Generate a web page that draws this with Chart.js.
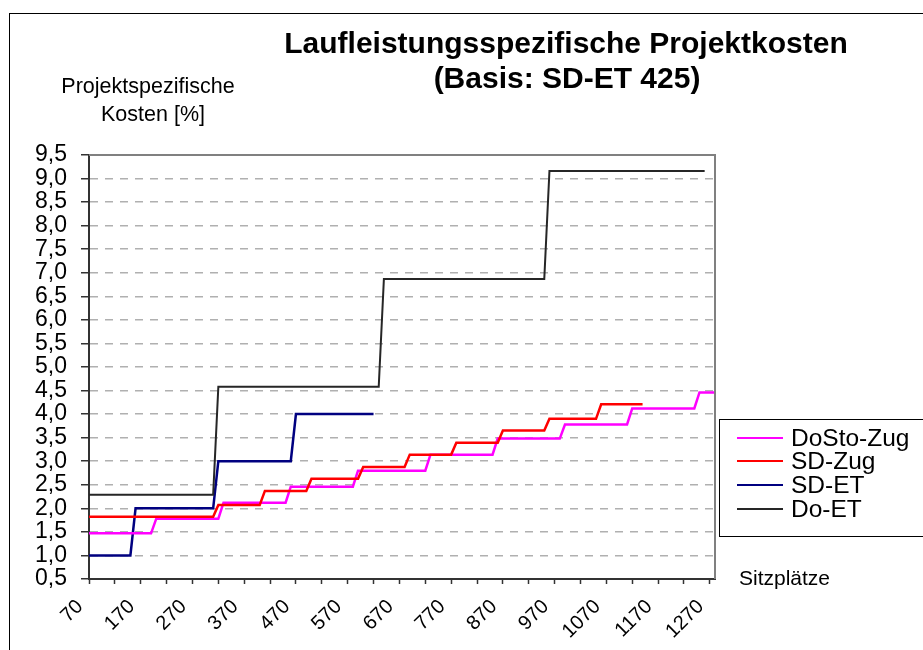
<!DOCTYPE html>
<html>
<head>
<meta charset="utf-8">
<script src="https://cdn.jsdelivr.net/npm/chart.js@4.4.0/dist/chart.umd.min.js"></script>
<style>
html,body{margin:0;padding:0;background:#fff;}
#wrap{position:relative;width:923px;height:650px;}
</style>
</head>
<body>
<div id="wrap"><canvas id="c" width="923" height="650"></canvas></div>
<script>
// ---------- texts ----------
const chartTitle = ['Laufleistungsspezifische Projektkosten', '(Basis: SD-ET 425)'];
const yAxisTitle = ['Projektspezifische', 'Kosten [%]'];
const xAxisTitle = 'Sitzplätze';
const seriesNames = ['DoSto-Zug', 'SD-Zug', 'SD-ET', 'Do-ET'];

// ---------- axis ticks ----------
const xTickValues = [70,120,170,220,270,320,370,420,470,520,570,620,670,720,770,820,870,920,970,1020,1070,1120,1170,1220,1270];
const xLabelValues = [70,170,270,370,470,570,670,770,870,970,1070,1170,1270];
const yTickValues = [0.5,1.0,1.5,2.0,2.5,3.0,3.5,4.0,4.5,5.0,5.5,6.0,6.5,7.0,7.5,8.0,8.5,9.0,9.5];
const yTickLabels = ['0,5','1,0','1,5','2,0','2,5','3,0','3,5','4,0','4,5','5,0','5,5','6,0','6,5','7,0','7,5','8,0','8,5','9,0','9,5'];

// ---------- series (step corners: seats / cost %) ----------
const doStoSeats = [70,190,200,320,330,450,460,580,590,720,730,850,860,980,990,1110,1120,1240,1250,1280];
const doStoCost  = [1.47,1.47,1.78,1.78,2.12,2.12,2.46,2.46,2.80,2.80,3.14,3.14,3.48,3.48,3.78,3.78,4.12,4.12,4.46,4.46];

const sdZugSeats = [70,310,320,400,410,490,500,590,600,680,690,770,780,860,870,950,960,1050,1060,1140];
const sdZugCost  = [1.82,1.82,2.07,2.07,2.37,2.37,2.63,2.63,2.88,2.88,3.14,3.14,3.39,3.39,3.65,3.65,3.90,3.90,4.21,4.21];

const sdEtSeats = [70,150,160,310,320,460,470,620];
const sdEtCost  = [1.0,1.0,2.0,2.0,3.0,3.0,4.0,4.0];

const doEtSeats = [70,310,320,630,640,950,960,1260];
const doEtCost  = [2.29,2.29,4.58,4.58,6.87,6.87,9.16,9.16];

const seriesColors = ['#ff00ff', '#ff0000', '#000080', '#262626'];

const FONT = '"Liberation Sans", Arial, Helvetica, sans-serif';
Chart.defaults.font.family = FONT;
Chart.defaults.color = '#000';

function pts(xs, ys) { return xs.map((x, i) => ({x: x, y: ys[i]})); }

const seriesData = [pts(doStoSeats, doStoCost), pts(sdZugSeats, sdZugCost), pts(sdEtSeats, sdEtCost), pts(doEtSeats, doEtCost)];
const seriesWidths = [2.5, 2.5, 2.5, 2];
const seriesOrder = [1, 0, 3, 2];

const deco = {
  id: 'deco',
  beforeDraw(chart) {
    const ctx = chart.ctx;
    ctx.save();
    ctx.fillStyle = '#fff';
    ctx.fillRect(0, 0, chart.width, chart.height);
    ctx.restore();
  },
  afterDraw(chart) {
    const ctx = chart.ctx, a = chart.chartArea;
    ctx.save();
    // outer chart frame (cropped at right/bottom)
    ctx.strokeStyle = '#000';
    ctx.lineWidth = 1;
    ctx.strokeRect(9.5, 13.5, 1000, 1000);
    // plot area top/right border
    ctx.strokeStyle = '#808080';
    ctx.lineWidth = 2;
    ctx.beginPath();
    ctx.moveTo(a.left, a.top);
    ctx.lineTo(a.right, a.top);
    ctx.lineTo(a.right, a.bottom);
    ctx.stroke();
    // title
    ctx.fillStyle = '#000';
    ctx.textAlign = 'center';
    ctx.textBaseline = 'middle';
    ctx.font = 'bold 30px ' + FONT;
    ctx.fillText(chartTitle[0], 566, 45);
    ctx.fillText(chartTitle[1], 567, 80);
    // y-axis title
    ctx.font = '21.5px ' + FONT;
    ctx.fillText(yAxisTitle[0], 148, 87);
    ctx.fillText(yAxisTitle[1], 153, 115);
    // x-axis title
    ctx.textAlign = 'left';
    ctx.font = '21px ' + FONT;
    ctx.fillText(xAxisTitle, 739, 579);
    // legend
    ctx.strokeStyle = '#000';
    ctx.lineWidth = 1;
    ctx.strokeRect(719.5, 419.5, 300, 117);
    ctx.font = '24.5px ' + FONT;
    const rows = [438, 461, 485, 509];
    seriesNames.forEach((n, i) => {
      ctx.strokeStyle = seriesColors[i];
      ctx.lineWidth = 2;
      ctx.beginPath();
      ctx.moveTo(737, rows[i]);
      ctx.lineTo(783, rows[i]);
      ctx.stroke();
      ctx.fillStyle = '#000';
      ctx.fillText(n, 791, rows[i] + 1);
    });
    ctx.restore();
  }
};

new Chart(document.getElementById('c'), {
  type: 'line',
  data: {
    datasets: seriesNames.map((n, i) => ({
      label: n,
      data: seriesData[i],
      borderColor: seriesColors[i],
      backgroundColor: seriesColors[i],
      borderWidth: seriesWidths[i],
      pointRadius: 0,
      tension: 0,
      fill: false,
      order: seriesOrder[i]
    }))
  },
  options: {
    responsive: false,
    animation: false,
    events: [],
    layout: { padding: { left: 0, top: 155, right: 208, bottom: 0 } },
    plugins: { legend: { display: false }, title: { display: false }, tooltip: { enabled: false } },
    scales: {
      x: {
        type: 'linear',
        min: 70,
        max: 1280,
        afterBuildTicks: (scale) => { scale.ticks = xTickValues.map(v => ({value: v})); },
        afterFit: (scale) => { scale.height = 71; },
        ticks: {
          autoSkip: false,
          maxRotation: 45,
          minRotation: 45,
          padding: 11,
          labelOffset: -9,
          font: { size: 20 },
          color: '#000',
          callback: (v) => xLabelValues.includes(v) ? String(v) : ''
        },
        grid: { drawOnChartArea: false, drawTicks: true, tickLength: 5, tickColor: '#333', tickWidth: 1.5 },
        border: { display: true, color: '#333', width: 2 }
      },
      y: {
        type: 'linear',
        min: 0.5,
        max: 9.5,
        afterBuildTicks: (scale) => { scale.ticks = yTickValues.map(v => ({value: v})); },
        afterFit: (scale) => { scale.width = 89; },
        ticks: {
          autoSkip: false,
          padding: 14,
          font: { size: 23 },
          color: '#000',
          callback: (v) => { const i = yTickValues.findIndex(t => Math.abs(t - v) < 1e-6); return i >= 0 ? yTickLabels[i] : ''; }
        },
        grid: {
          drawOnChartArea: true,
          drawTicks: true,
          tickLength: 8,
          tickColor: '#333',
          tickWidth: 1.5,
          lineWidth: 1.5,
          color: (ctx) => (ctx.tick && (Math.abs(ctx.tick.value - 0.5) < 1e-6 || Math.abs(ctx.tick.value - 9.5) < 1e-6)) ? 'rgba(0,0,0,0)' : '#b0b0b0'
        },
        border: { display: true, color: '#333', width: 2, dash: [8, 7] }
      }
    }
  },
  plugins: [deco]
});
</script>
</body>
</html>
